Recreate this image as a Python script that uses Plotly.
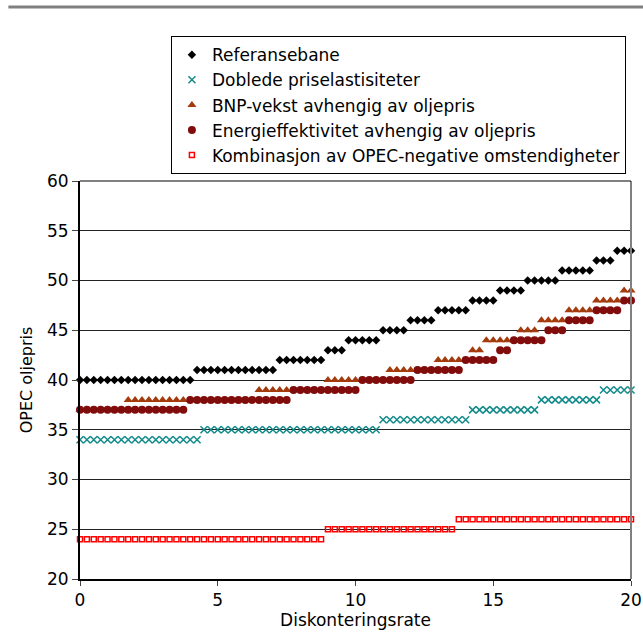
import plotly.graph_objects as go

# Discount rate (percent), 0 to 20 in quarter-point steps
diskonteringsrate = [
    0, 0.25, 0.5, 0.75, 1, 1.25, 1.5, 1.75, 2, 2.25, 2.5, 2.75, 3, 3.25, 3.5, 3.75,
    4, 4.25, 4.5, 4.75, 5, 5.25, 5.5, 5.75, 6, 6.25, 6.5, 6.75, 7, 7.25, 7.5, 7.75,
    8, 8.25, 8.5, 8.75, 9, 9.25, 9.5, 9.75, 10, 10.25, 10.5, 10.75, 11, 11.25, 11.5, 11.75,
    12, 12.25, 12.5, 12.75, 13, 13.25, 13.5, 13.75, 14, 14.25, 14.5, 14.75, 15, 15.25, 15.5, 15.75,
    16, 16.25, 16.5, 16.75, 17, 17.25, 17.5, 17.75, 18, 18.25, 18.5, 18.75, 19, 19.25, 19.5, 19.75,
    20,
]

referansebane = (
    [40, 40, 40, 40, 40, 40, 40, 40, 40, 40, 40, 40, 40, 40, 40, 40, 40]
    + [41, 41, 41, 41, 41, 41, 41, 41, 41, 41, 41, 41]
    + [42, 42, 42, 42, 42, 42, 42]
    + [43, 43, 43]
    + [44, 44, 44, 44, 44]
    + [45, 45, 45, 45]
    + [46, 46, 46, 46]
    + [47, 47, 47, 47, 47]
    + [48, 48, 48, 48]
    + [49, 49, 49, 49]
    + [50, 50, 50, 50, 50]
    + [51, 51, 51, 51, 51]
    + [52, 52, 52]
    + [53, 53, 53]
)

doblede_priselastisiteter = (
    [34, 34, 34, 34, 34, 34, 34, 34, 34, 34, 34, 34, 34, 34, 34, 34, 34, 34]
    + [35, 35, 35, 35, 35, 35, 35, 35, 35, 35, 35, 35, 35,
       35, 35, 35, 35, 35, 35, 35, 35, 35, 35, 35, 35, 35]
    + [36, 36, 36, 36, 36, 36, 36, 36, 36, 36, 36, 36, 36]
    + [37, 37, 37, 37, 37, 37, 37, 37, 37, 37]
    + [38, 38, 38, 38, 38, 38, 38, 38, 38]
    + [39, 39, 39, 39, 39]
)

bnp_vekst = (
    [37, 37, 37, 37, 37, 37, 37]
    + [38, 38, 38, 38, 38, 38, 38, 38, 38, 38, 38, 38, 38, 38, 38, 38, 38, 38, 38]
    + [39, 39, 39, 39, 39, 39, 39, 39, 39, 39]
    + [40, 40, 40, 40, 40, 40, 40, 40, 40]
    + [41, 41, 41, 41, 41, 41, 41]
    + [42, 42, 42, 42, 42]
    + [43, 43]
    + [44, 44, 44, 44, 44]
    + [45, 45, 45]
    + [46, 46, 46, 46]
    + [47, 47, 47, 47]
    + [48, 48, 48, 48]
    + [49, 49]
)

energieffektivitet = (
    [37, 37, 37, 37, 37, 37, 37, 37, 37, 37, 37, 37, 37, 37, 37, 37]
    + [38, 38, 38, 38, 38, 38, 38, 38, 38, 38, 38, 38, 38, 38, 38]
    + [39, 39, 39, 39, 39, 39, 39, 39, 39, 39]
    + [40, 40, 40, 40, 40, 40, 40, 40]
    + [41, 41, 41, 41, 41, 41, 41]
    + [42, 42, 42, 42, 42]
    + [43, 43]
    + [44, 44, 44, 44, 44]
    + [45, 45, 45]
    + [46, 46, 46, 46]
    + [47, 47, 47, 47]
    + [48, 48]
)

kombinasjon = (
    [24, 24, 24, 24, 24, 24, 24, 24, 24, 24, 24, 24, 24, 24, 24, 24, 24, 24,
     24, 24, 24, 24, 24, 24, 24, 24, 24, 24, 24, 24, 24, 24, 24, 24, 24, 24]
    + [25, 25, 25, 25, 25, 25, 25, 25, 25, 25, 25, 25, 25, 25, 25, 25, 25, 25, 25]
    + [26, 26, 26, 26, 26, 26, 26, 26, 26, 26, 26, 26, 26,
       26, 26, 26, 26, 26, 26, 26, 26, 26, 26, 26, 26, 26]
)

FONT = "DejaVu Sans, Arial, sans-serif"

fig = go.Figure()

fig.add_trace(go.Scatter(
    x=diskonteringsrate, y=referansebane, mode="markers", name="Referansebane",
    marker=dict(symbol="diamond", size=6.5, color="#000000"), cliponaxis=False,
))
fig.add_trace(go.Scatter(
    x=diskonteringsrate, y=doblede_priselastisiteter, mode="markers",
    name="Doblede priselastisiteter",
    marker=dict(symbol="x-thin", size=7, color="#138a8a",
                line=dict(color="#138a8a", width=1.5)), cliponaxis=False,
))
fig.add_trace(go.Scatter(
    x=diskonteringsrate, y=bnp_vekst, mode="markers",
    name="BNP-vekst avhengig av oljepris",
    marker=dict(symbol="triangle-up", size=8, color="#a33b0c"), cliponaxis=False,
))
fig.add_trace(go.Scatter(
    x=diskonteringsrate, y=energieffektivitet, mode="markers",
    name="Energieffektivitet avhengig av oljepris",
    marker=dict(symbol="circle", size=8, color="#800c0c"), cliponaxis=False,
))
fig.add_trace(go.Scatter(
    x=diskonteringsrate, y=kombinasjon, mode="markers",
    name="Kombinasjon av OPEC-negative omstendigheter",
    marker=dict(symbol="square-open", size=5, color="#ff0000",
                line=dict(color="#ff0000", width=1.5)), cliponaxis=False,
))

fig.update_layout(
    width=643, height=634,
    margin=dict(l=80, r=12, t=181, b=55),
    paper_bgcolor="white", plot_bgcolor="white",
    font=dict(family=FONT, size=17, color="#000000"),
    showlegend=True,
    legend=dict(
        x=0.165, y=1.364, xanchor="left", yanchor="top",
        bgcolor="white", bordercolor="#000000", borderwidth=1,
        font=dict(family=FONT, size=17, color="#000000"),
        itemsizing="trace", tracegroupgap=0,
    ),
    xaxis=dict(
        range=[0, 20], tickvals=[0, 5, 10, 15, 20], showgrid=False, zeroline=False,
        showline=True, linecolor="#000000", linewidth=2, automargin=False,
        ticks="outside", ticklen=5, tickcolor="#444444", tickwidth=1,
        tickfont=dict(size=17),
        title=dict(text="Diskonteringsrate", font=dict(size=17), standoff=0),
    ),
    yaxis=dict(
        range=[20, 60], tickvals=[20, 25, 30, 35, 40, 45, 50, 55, 60],
        showgrid=True, gridcolor="#222222", gridwidth=1, zeroline=False,
        showline=True, linecolor="#000000", linewidth=2, automargin=False,
        ticks="outside", ticklen=6, tickcolor="#444444", tickwidth=1,
        tickfont=dict(size=17),
        title=dict(text="OPEC oljepris", font=dict(size=16), standoff=10),
    ),
    shapes=[
        # right edge of the plot frame
        dict(type="line", xref="paper", yref="paper", x0=1, x1=1, y0=0, y1=1,
             line=dict(color="#808080", width=2)),
        # top edge of the plot frame
        dict(type="line", xref="paper", yref="paper", x0=0, x1=1, y0=1, y1=1,
             line=dict(color="#000000", width=1)),
        # horizontal rule across the top of the page
        dict(type="line", xref="paper", yref="paper", x0=-0.13, x1=1.03,
             y0=1.437, y1=1.437, line=dict(color="#808080", width=3)),
    ],
)

fig.write_html("out.html")
